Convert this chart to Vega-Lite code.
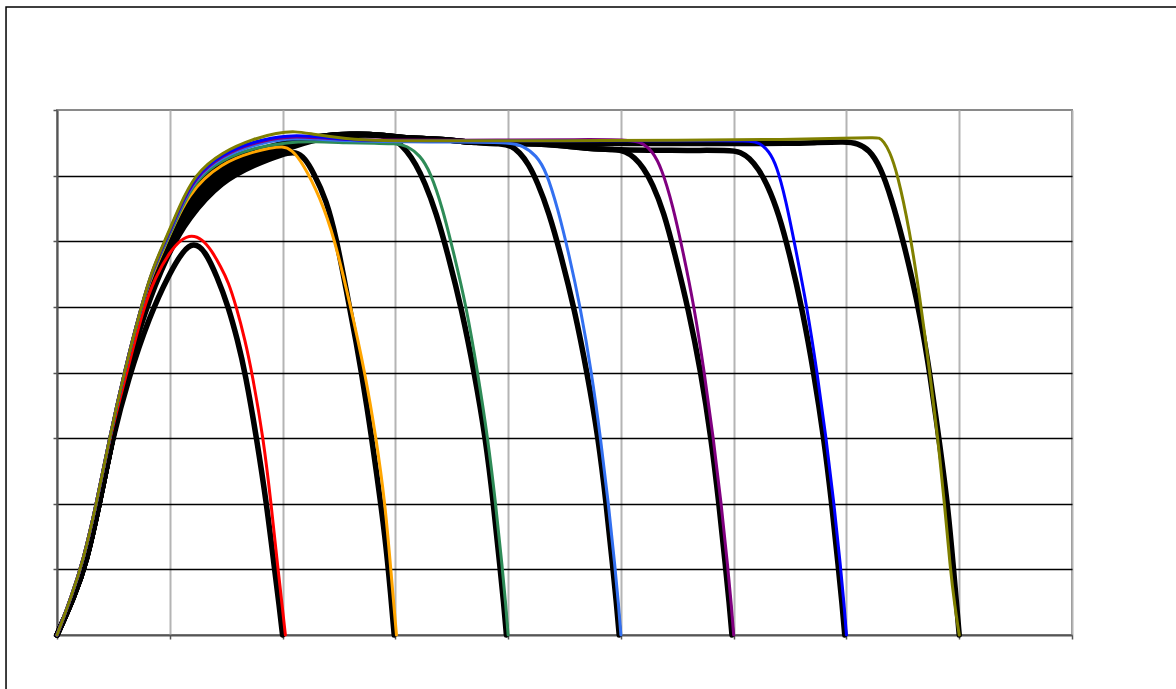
{
  "$schema": "https://vega.github.io/schema/vega-lite/v6.json",
  "width": 1015,
  "height": 525,
  "autosize": {"type": "none"},
  "padding": {"left": 57, "top": 110, "right": 104, "bottom": 54},
  "background": "white",
  "config": {"view": {"stroke": "#8a8a8a", "strokeWidth": 2}},
  "datasets": {
    "blk": [
      {"s":"b1","x":0,"y":0},{"s":"b1","x":0.15,"y":0.58},{"s":"b1","x":0.26,"y":1.1},{"s":"b1","x":0.375,"y":2.0},{"s":"b1","x":0.49,"y":2.98},{"s":"b1","x":0.63,"y":3.9},{"s":"b1","x":0.82,"y":4.86},{"s":"b1","x":1.0,"y":5.52},{"s":"b1","x":1.12,"y":5.86},{"s":"b1","x":1.21,"y":5.98},{"s":"b1","x":1.31,"y":5.87},{"s":"b1","x":1.42,"y":5.46},{"s":"b1","x":1.52,"y":5.0},{"s":"b1","x":1.6,"y":4.5},{"s":"b1","x":1.67,"y":3.99},{"s":"b1","x":1.77,"y":3.0},{"s":"b1","x":1.86,"y":1.98},{"s":"b1","x":1.93,"y":0.99},{"s":"b1","x":1.97,"y":0.45},{"s":"b1","x":2.0,"y":0},
      {"s":"b2","x":0,"y":0},{"s":"b2","x":0.15,"y":0.58},{"s":"b2","x":0.26,"y":1.1},{"s":"b2","x":0.375,"y":2.0},{"s":"b2","x":0.49,"y":2.98},{"s":"b2","x":0.615,"y":3.95},{"s":"b2","x":0.77,"y":4.9},{"s":"b2","x":0.98,"y":5.8},{"s":"b2","x":1.16,"y":6.35},{"s":"b2","x":1.46,"y":6.92},{"s":"b2","x":1.755,"y":7.17},{"s":"b2","x":2.0,"y":7.33},{"s":"b2","x":2.12,"y":7.37},{"s":"b2","x":2.2,"y":7.26},{"s":"b2","x":2.27,"y":7.06},{"s":"b2","x":2.39,"y":6.63},{"s":"b2","x":2.48,"y":6.02},{"s":"b2","x":2.56,"y":5.3},{"s":"b2","x":2.65,"y":4.5},{"s":"b2","x":2.75,"y":3.48},{"s":"b2","x":2.83,"y":2.52},{"s":"b2","x":2.91,"y":1.5},{"s":"b2","x":2.96,"y":0.6},{"s":"b2","x":2.99,"y":0},
      {"s":"b3","x":0,"y":0},{"s":"b3","x":0.15,"y":0.58},{"s":"b3","x":0.26,"y":1.1},{"s":"b3","x":0.375,"y":2.0},{"s":"b3","x":0.49,"y":2.98},{"s":"b3","x":0.615,"y":3.95},{"s":"b3","x":0.765,"y":4.93},{"s":"b3","x":0.97,"y":5.84},{"s":"b3","x":1.16,"y":6.45},{"s":"b3","x":1.46,"y":7.0},{"s":"b3","x":1.755,"y":7.22},{"s":"b3","x":2.05,"y":7.42},{"s":"b3","x":2.3,"y":7.56},{"s":"b3","x":2.6,"y":7.62},{"s":"b3","x":2.85,"y":7.62},{"s":"b3","x":2.95,"y":7.58},{"s":"b3","x":3.02,"y":7.52},{"s":"b3","x":3.1,"y":7.38},{"s":"b3","x":3.18,"y":7.18},{"s":"b3","x":3.26,"y":6.9},{"s":"b3","x":3.36,"y":6.45},{"s":"b3","x":3.47,"y":5.78},{"s":"b3","x":3.59,"y":4.95},{"s":"b3","x":3.7,"y":4.0},{"s":"b3","x":3.8,"y":3.0},{"s":"b3","x":3.87,"y":2.0},{"s":"b3","x":3.93,"y":1.0},{"s":"b3","x":3.96,"y":0.5},{"s":"b3","x":3.985,"y":0},
      {"s":"b4","x":0,"y":0},{"s":"b4","x":0.15,"y":0.58},{"s":"b4","x":0.26,"y":1.1},{"s":"b4","x":0.375,"y":2.0},{"s":"b4","x":0.49,"y":2.98},{"s":"b4","x":0.615,"y":3.95},{"s":"b4","x":0.765,"y":4.94},{"s":"b4","x":0.97,"y":5.87},{"s":"b4","x":1.16,"y":6.55},{"s":"b4","x":1.46,"y":7.06},{"s":"b4","x":1.755,"y":7.27},{"s":"b4","x":2.05,"y":7.46},{"s":"b4","x":2.3,"y":7.58},{"s":"b4","x":2.6,"y":7.64},{"s":"b4","x":2.9,"y":7.62},{"s":"b4","x":3.0,"y":7.58},{"s":"b4","x":3.5,"y":7.55},{"s":"b4","x":3.65,"y":7.5},{"s":"b4","x":3.95,"y":7.49},{"s":"b4","x":4.03,"y":7.45},{"s":"b4","x":4.1,"y":7.36},{"s":"b4","x":4.18,"y":7.18},{"s":"b4","x":4.26,"y":6.9},{"s":"b4","x":4.36,"y":6.45},{"s":"b4","x":4.47,"y":5.78},{"s":"b4","x":4.59,"y":4.95},{"s":"b4","x":4.7,"y":4.0},{"s":"b4","x":4.8,"y":3.0},{"s":"b4","x":4.87,"y":2.0},{"s":"b4","x":4.93,"y":1.0},{"s":"b4","x":4.96,"y":0.5},{"s":"b4","x":4.985,"y":0},
      {"s":"b5","x":0,"y":0},{"s":"b5","x":0.15,"y":0.58},{"s":"b5","x":0.26,"y":1.1},{"s":"b5","x":0.375,"y":2.0},{"s":"b5","x":0.49,"y":2.98},{"s":"b5","x":0.615,"y":3.95},{"s":"b5","x":0.765,"y":4.95},{"s":"b5","x":0.97,"y":5.9},{"s":"b5","x":1.16,"y":6.63},{"s":"b5","x":1.46,"y":7.12},{"s":"b5","x":1.755,"y":7.31},{"s":"b5","x":2.05,"y":7.49},{"s":"b5","x":2.3,"y":7.6},{"s":"b5","x":2.6,"y":7.64},{"s":"b5","x":2.9,"y":7.62},{"s":"b5","x":3.0,"y":7.58},{"s":"b5","x":3.5,"y":7.55},{"s":"b5","x":3.65,"y":7.5},{"s":"b5","x":4.2,"y":7.49},{"s":"b5","x":4.5,"y":7.46},{"s":"b5","x":4.7,"y":7.41},{"s":"b5","x":4.95,"y":7.4},{"s":"b5","x":5.04,"y":7.37},{"s":"b5","x":5.12,"y":7.28},{"s":"b5","x":5.2,"y":7.12},{"s":"b5","x":5.28,"y":6.88},{"s":"b5","x":5.38,"y":6.45},{"s":"b5","x":5.48,"y":5.8},{"s":"b5","x":5.6,"y":4.95},{"s":"b5","x":5.71,"y":4.0},{"s":"b5","x":5.8,"y":3.0},{"s":"b5","x":5.87,"y":2.0},{"s":"b5","x":5.93,"y":1.0},{"s":"b5","x":5.96,"y":0.5},{"s":"b5","x":5.985,"y":0},
      {"s":"b6","x":0,"y":0},{"s":"b6","x":0.15,"y":0.58},{"s":"b6","x":0.26,"y":1.1},{"s":"b6","x":0.375,"y":2.0},{"s":"b6","x":0.49,"y":2.98},{"s":"b6","x":0.615,"y":3.95},{"s":"b6","x":0.765,"y":4.96},{"s":"b6","x":0.97,"y":5.93},{"s":"b6","x":1.16,"y":6.7},{"s":"b6","x":1.46,"y":7.17},{"s":"b6","x":1.755,"y":7.35},{"s":"b6","x":2.05,"y":7.5},{"s":"b6","x":2.3,"y":7.6},{"s":"b6","x":2.6,"y":7.64},{"s":"b6","x":2.9,"y":7.62},{"s":"b6","x":3.0,"y":7.58},{"s":"b6","x":3.5,"y":7.55},{"s":"b6","x":3.65,"y":7.5},{"s":"b6","x":4.2,"y":7.49},{"s":"b6","x":4.5,"y":7.46},{"s":"b6","x":4.7,"y":7.4},{"s":"b6","x":5.5,"y":7.38},{"s":"b6","x":5.98,"y":7.39},{"s":"b6","x":6.06,"y":7.36},{"s":"b6","x":6.14,"y":7.27},{"s":"b6","x":6.22,"y":7.1},{"s":"b6","x":6.3,"y":6.86},{"s":"b6","x":6.4,"y":6.42},{"s":"b6","x":6.5,"y":5.78},{"s":"b6","x":6.61,"y":4.95},{"s":"b6","x":6.71,"y":4.0},{"s":"b6","x":6.8,"y":3.0},{"s":"b6","x":6.87,"y":2.0},{"s":"b6","x":6.93,"y":1.0},{"s":"b6","x":6.96,"y":0.5},{"s":"b6","x":6.985,"y":0},
      {"s":"b7","x":0,"y":0},{"s":"b7","x":0.15,"y":0.58},{"s":"b7","x":0.26,"y":1.1},{"s":"b7","x":0.375,"y":2.0},{"s":"b7","x":0.49,"y":2.98},{"s":"b7","x":0.615,"y":3.95},{"s":"b7","x":0.765,"y":4.97},{"s":"b7","x":0.97,"y":5.95},{"s":"b7","x":1.16,"y":6.76},{"s":"b7","x":1.46,"y":7.2},{"s":"b7","x":1.755,"y":7.38},{"s":"b7","x":2.05,"y":7.52},{"s":"b7","x":2.3,"y":7.6},{"s":"b7","x":2.6,"y":7.64},{"s":"b7","x":2.9,"y":7.62},{"s":"b7","x":3.0,"y":7.58},{"s":"b7","x":3.5,"y":7.55},{"s":"b7","x":3.65,"y":7.5},{"s":"b7","x":4.2,"y":7.49},{"s":"b7","x":5.0,"y":7.49},{"s":"b7","x":6.0,"y":7.49},{"s":"b7","x":6.5,"y":7.49},{"s":"b7","x":6.7,"y":7.5},{"s":"b7","x":7.0,"y":7.52},{"s":"b7","x":7.1,"y":7.49},{"s":"b7","x":7.2,"y":7.4},{"s":"b7","x":7.3,"y":7.14},{"s":"b7","x":7.4,"y":6.65},{"s":"b7","x":7.5,"y":6.02},{"s":"b7","x":7.58,"y":5.45},{"s":"b7","x":7.66,"y":4.8},{"s":"b7","x":7.74,"y":3.99},{"s":"b7","x":7.83,"y":2.87},{"s":"b7","x":7.9,"y":1.95},{"s":"b7","x":7.95,"y":1.0},{"s":"b7","x":7.98,"y":0.4},{"s":"b7","x":8.0,"y":0}
    ],
    "col": [
      {"s":"red","x":0,"y":0},{"s":"red","x":0.13,"y":0.6},{"s":"red","x":0.23,"y":1.12},{"s":"red","x":0.35,"y":2.0},{"s":"red","x":0.465,"y":3.0},{"s":"red","x":0.62,"y":4.0},{"s":"red","x":0.76,"y":4.95},{"s":"red","x":0.87,"y":5.45},{"s":"red","x":1.0,"y":5.84},{"s":"red","x":1.1,"y":6.03},{"s":"red","x":1.194,"y":6.1},{"s":"red","x":1.29,"y":6.03},{"s":"red","x":1.37,"y":5.86},{"s":"red","x":1.45,"y":5.62},{"s":"red","x":1.52,"y":5.38},{"s":"red","x":1.59,"y":5.0},{"s":"red","x":1.667,"y":4.5},{"s":"red","x":1.73,"y":3.99},{"s":"red","x":1.83,"y":3.0},{"s":"red","x":1.9,"y":1.98},{"s":"red","x":1.96,"y":0.99},{"s":"red","x":2.0,"y":0.4},{"s":"red","x":2.025,"y":0},
      {"s":"orange","x":0,"y":0},{"s":"orange","x":0.13,"y":0.6},{"s":"orange","x":0.23,"y":1.12},{"s":"orange","x":0.35,"y":2.0},{"s":"orange","x":0.465,"y":3.0},{"s":"orange","x":0.595,"y":4.0},{"s":"orange","x":0.745,"y":5.0},{"s":"orange","x":0.85,"y":5.52},{"s":"orange","x":0.97,"y":5.97},{"s":"orange","x":1.16,"y":6.74},{"s":"orange","x":1.46,"y":7.2},{"s":"orange","x":1.755,"y":7.37},{"s":"orange","x":1.89,"y":7.42},{"s":"orange","x":2.0,"y":7.45},{"s":"orange","x":2.08,"y":7.4},{"s":"orange","x":2.18,"y":7.19},{"s":"orange","x":2.33,"y":6.68},{"s":"orange","x":2.46,"y":6.05},{"s":"orange","x":2.6,"y":5.03},{"s":"orange","x":2.73,"y":4.01},{"s":"orange","x":2.83,"y":3.0},{"s":"orange","x":2.91,"y":2.0},{"s":"orange","x":2.96,"y":0.99},{"s":"orange","x":2.99,"y":0.4},{"s":"orange","x":3.01,"y":0},
      {"s":"green","x":0,"y":0},{"s":"green","x":0.13,"y":0.6},{"s":"green","x":0.23,"y":1.12},{"s":"green","x":0.35,"y":2.0},{"s":"green","x":0.465,"y":3.0},{"s":"green","x":0.595,"y":4.0},{"s":"green","x":0.745,"y":5.0},{"s":"green","x":0.85,"y":5.55},{"s":"green","x":0.97,"y":5.99},{"s":"green","x":1.08,"y":6.42},{"s":"green","x":1.22,"y":6.92},{"s":"green","x":1.46,"y":7.25},{"s":"green","x":1.755,"y":7.43},{"s":"green","x":2.05,"y":7.51},{"s":"green","x":2.27,"y":7.52},{"s":"green","x":2.57,"y":7.5},{"s":"green","x":2.83,"y":7.49},{"s":"green","x":3.0,"y":7.49},{"s":"green","x":3.1,"y":7.46},{"s":"green","x":3.22,"y":7.31},{"s":"green","x":3.31,"y":7.06},{"s":"green","x":3.42,"y":6.5},{"s":"green","x":3.52,"y":5.8},{"s":"green","x":3.63,"y":5.0},{"s":"green","x":3.73,"y":4.0},{"s":"green","x":3.82,"y":3.0},{"s":"green","x":3.89,"y":2.0},{"s":"green","x":3.95,"y":1.0},{"s":"green","x":3.98,"y":0.45},{"s":"green","x":4.0,"y":0},
      {"s":"lblue","x":0,"y":0},{"s":"lblue","x":0.13,"y":0.6},{"s":"lblue","x":0.23,"y":1.12},{"s":"lblue","x":0.35,"y":2.0},{"s":"lblue","x":0.465,"y":3.0},{"s":"lblue","x":0.595,"y":4.0},{"s":"lblue","x":0.745,"y":5.0},{"s":"lblue","x":0.85,"y":5.57},{"s":"lblue","x":0.97,"y":6.02},{"s":"lblue","x":1.08,"y":6.46},{"s":"lblue","x":1.22,"y":6.95},{"s":"lblue","x":1.46,"y":7.29},{"s":"lblue","x":1.755,"y":7.48},{"s":"lblue","x":2.05,"y":7.57},{"s":"lblue","x":2.27,"y":7.56},{"s":"lblue","x":2.57,"y":7.53},{"s":"lblue","x":2.83,"y":7.52},{"s":"lblue","x":3.5,"y":7.51},{"s":"lblue","x":4.0,"y":7.51},{"s":"lblue","x":4.13,"y":7.46},{"s":"lblue","x":4.25,"y":7.31},{"s":"lblue","x":4.34,"y":7.06},{"s":"lblue","x":4.44,"y":6.5},{"s":"lblue","x":4.54,"y":5.8},{"s":"lblue","x":4.64,"y":5.0},{"s":"lblue","x":4.74,"y":4.0},{"s":"lblue","x":4.82,"y":3.0},{"s":"lblue","x":4.89,"y":2.0},{"s":"lblue","x":4.95,"y":1.0},{"s":"lblue","x":4.98,"y":0.45},{"s":"lblue","x":5.0,"y":0},
      {"s":"purple","x":0,"y":0},{"s":"purple","x":0.13,"y":0.6},{"s":"purple","x":0.23,"y":1.12},{"s":"purple","x":0.35,"y":2.0},{"s":"purple","x":0.465,"y":3.0},{"s":"purple","x":0.595,"y":4.0},{"s":"purple","x":0.745,"y":5.0},{"s":"purple","x":0.85,"y":5.58},{"s":"purple","x":0.97,"y":6.03},{"s":"purple","x":1.08,"y":6.47},{"s":"purple","x":1.22,"y":6.97},{"s":"purple","x":1.46,"y":7.31},{"s":"purple","x":1.755,"y":7.51},{"s":"purple","x":2.05,"y":7.6},{"s":"purple","x":2.27,"y":7.58},{"s":"purple","x":2.57,"y":7.55},{"s":"purple","x":2.83,"y":7.54},{"s":"purple","x":4.0,"y":7.54},{"s":"purple","x":4.6,"y":7.55},{"s":"purple","x":5.1,"y":7.55},{"s":"purple","x":5.2,"y":7.49},{"s":"purple","x":5.28,"y":7.37},{"s":"purple","x":5.36,"y":7.12},{"s":"purple","x":5.46,"y":6.55},{"s":"purple","x":5.55,"y":5.85},{"s":"purple","x":5.65,"y":5.0},{"s":"purple","x":5.74,"y":4.0},{"s":"purple","x":5.82,"y":3.0},{"s":"purple","x":5.89,"y":2.0},{"s":"purple","x":5.95,"y":1.0},{"s":"purple","x":5.98,"y":0.45},{"s":"purple","x":6.0,"y":0},
      {"s":"blue","x":0,"y":0},{"s":"blue","x":0.13,"y":0.6},{"s":"blue","x":0.23,"y":1.12},{"s":"blue","x":0.35,"y":2.0},{"s":"blue","x":0.465,"y":3.0},{"s":"blue","x":0.595,"y":4.0},{"s":"blue","x":0.745,"y":5.0},{"s":"blue","x":0.85,"y":5.59},{"s":"blue","x":0.97,"y":6.04},{"s":"blue","x":1.08,"y":6.49},{"s":"blue","x":1.22,"y":6.99},{"s":"blue","x":1.46,"y":7.33},{"s":"blue","x":1.755,"y":7.53},{"s":"blue","x":2.05,"y":7.62},{"s":"blue","x":2.27,"y":7.6},{"s":"blue","x":2.57,"y":7.55},{"s":"blue","x":2.83,"y":7.53},{"s":"blue","x":4.0,"y":7.53},{"s":"blue","x":5.0,"y":7.53},{"s":"blue","x":6.0,"y":7.53},{"s":"blue","x":6.15,"y":7.53},{"s":"blue","x":6.23,"y":7.5},{"s":"blue","x":6.31,"y":7.38},{"s":"blue","x":6.38,"y":7.16},{"s":"blue","x":6.46,"y":6.65},{"s":"blue","x":6.55,"y":5.88},{"s":"blue","x":6.65,"y":5.0},{"s":"blue","x":6.74,"y":4.0},{"s":"blue","x":6.82,"y":3.0},{"s":"blue","x":6.89,"y":2.0},{"s":"blue","x":6.95,"y":1.0},{"s":"blue","x":6.98,"y":0.45},{"s":"blue","x":7.0,"y":0},
      {"s":"olive","x":0,"y":0},{"s":"olive","x":0.13,"y":0.6},{"s":"olive","x":0.23,"y":1.12},{"s":"olive","x":0.35,"y":2.0},{"s":"olive","x":0.465,"y":3.0},{"s":"olive","x":0.595,"y":4.0},{"s":"olive","x":0.745,"y":5.0},{"s":"olive","x":0.85,"y":5.6},{"s":"olive","x":0.97,"y":6.06},{"s":"olive","x":1.08,"y":6.51},{"s":"olive","x":1.22,"y":7.02},{"s":"olive","x":1.46,"y":7.36},{"s":"olive","x":1.755,"y":7.57},{"s":"olive","x":1.95,"y":7.65},{"s":"olive","x":2.11,"y":7.68},{"s":"olive","x":2.27,"y":7.63},{"s":"olive","x":2.57,"y":7.56},{"s":"olive","x":2.83,"y":7.53},{"s":"olive","x":3.5,"y":7.53},{"s":"olive","x":4.5,"y":7.53},{"s":"olive","x":5.5,"y":7.54},{"s":"olive","x":6.5,"y":7.55},{"s":"olive","x":7.0,"y":7.57},{"s":"olive","x":7.24,"y":7.58},{"s":"olive","x":7.29,"y":7.58},{"s":"olive","x":7.33,"y":7.52},{"s":"olive","x":7.38,"y":7.38},{"s":"olive","x":7.45,"y":7.05},{"s":"olive","x":7.56,"y":6.17},{"s":"olive","x":7.65,"y":5.16},{"s":"olive","x":7.74,"y":3.99},{"s":"olive","x":7.81,"y":3.0},{"s":"olive","x":7.87,"y":2.0},{"s":"olive","x":7.92,"y":1.02},{"s":"olive","x":7.96,"y":0.45},{"s":"olive","x":8.0,"y":0}
    ]
  },
  "layer": [
    {
      "data": {"name": "blk"},
      "mark": {"type": "line", "color": "black", "strokeWidth": 5.5, "interpolate": "basis", "strokeJoin": "round", "strokeCap": "round"},
      "encoding": {
        "x": {"field": "x", "type": "quantitative", "scale": {"domain": [0, 9], "nice": false, "zero": false},
          "axis": {"values": [0,1,2,3,4,5,6,7,8,9], "labels": false, "title": null, "tickSize": 4, "tickColor": "#555555", "tickWidth": 1.5, "domainColor": "#555555", "domainWidth": 2, "grid": true, "gridColor": "#b4b4b4", "gridWidth": 2}},
        "y": {"field": "y", "type": "quantitative", "scale": {"domain": [0, 8], "nice": false, "zero": false},
          "axis": {"values": [0,1,2,3,4,5,6,7,8], "labels": false, "title": null, "tickSize": 4, "tickColor": "#555555", "tickWidth": 1.5, "domainColor": "#555555", "domainWidth": 2, "grid": true, "gridColor": {"condition": {"test": "datum.value >= 8 || datum.value <= 0", "value": "transparent"}, "value": "#000000"}, "gridWidth": 1.5}},
        "detail": {"field": "s", "type": "nominal"}
      }
    },
    {
      "data": {"name": "col"},
      "mark": {"type": "line", "strokeWidth": 3, "interpolate": "basis", "strokeJoin": "round", "strokeCap": "round"},
      "encoding": {
        "x": {"field": "x", "type": "quantitative"},
        "y": {"field": "y", "type": "quantitative"},
        "color": {"field": "s", "type": "nominal", "legend": null,
          "scale": {"domain": ["red","orange","green","lblue","purple","blue","olive"], "range": ["#ff0000","#ffa500","#2e8b57","#3370f0","#800080","#0000ff","#808000"]}}
      }
    },
    {
      "data": {"values": [{}]},
      "mark": {"type": "rect", "fillOpacity": 0, "stroke": "#000000", "strokeWidth": 1.5},
      "encoding": {
        "x": {"datum": -0.452, "type": "quantitative"},
        "x2": {"datum": 9.98},
        "y": {"datum": 9.57, "type": "quantitative"},
        "y2": {"datum": -0.9}
      }
    }
  ]
}
